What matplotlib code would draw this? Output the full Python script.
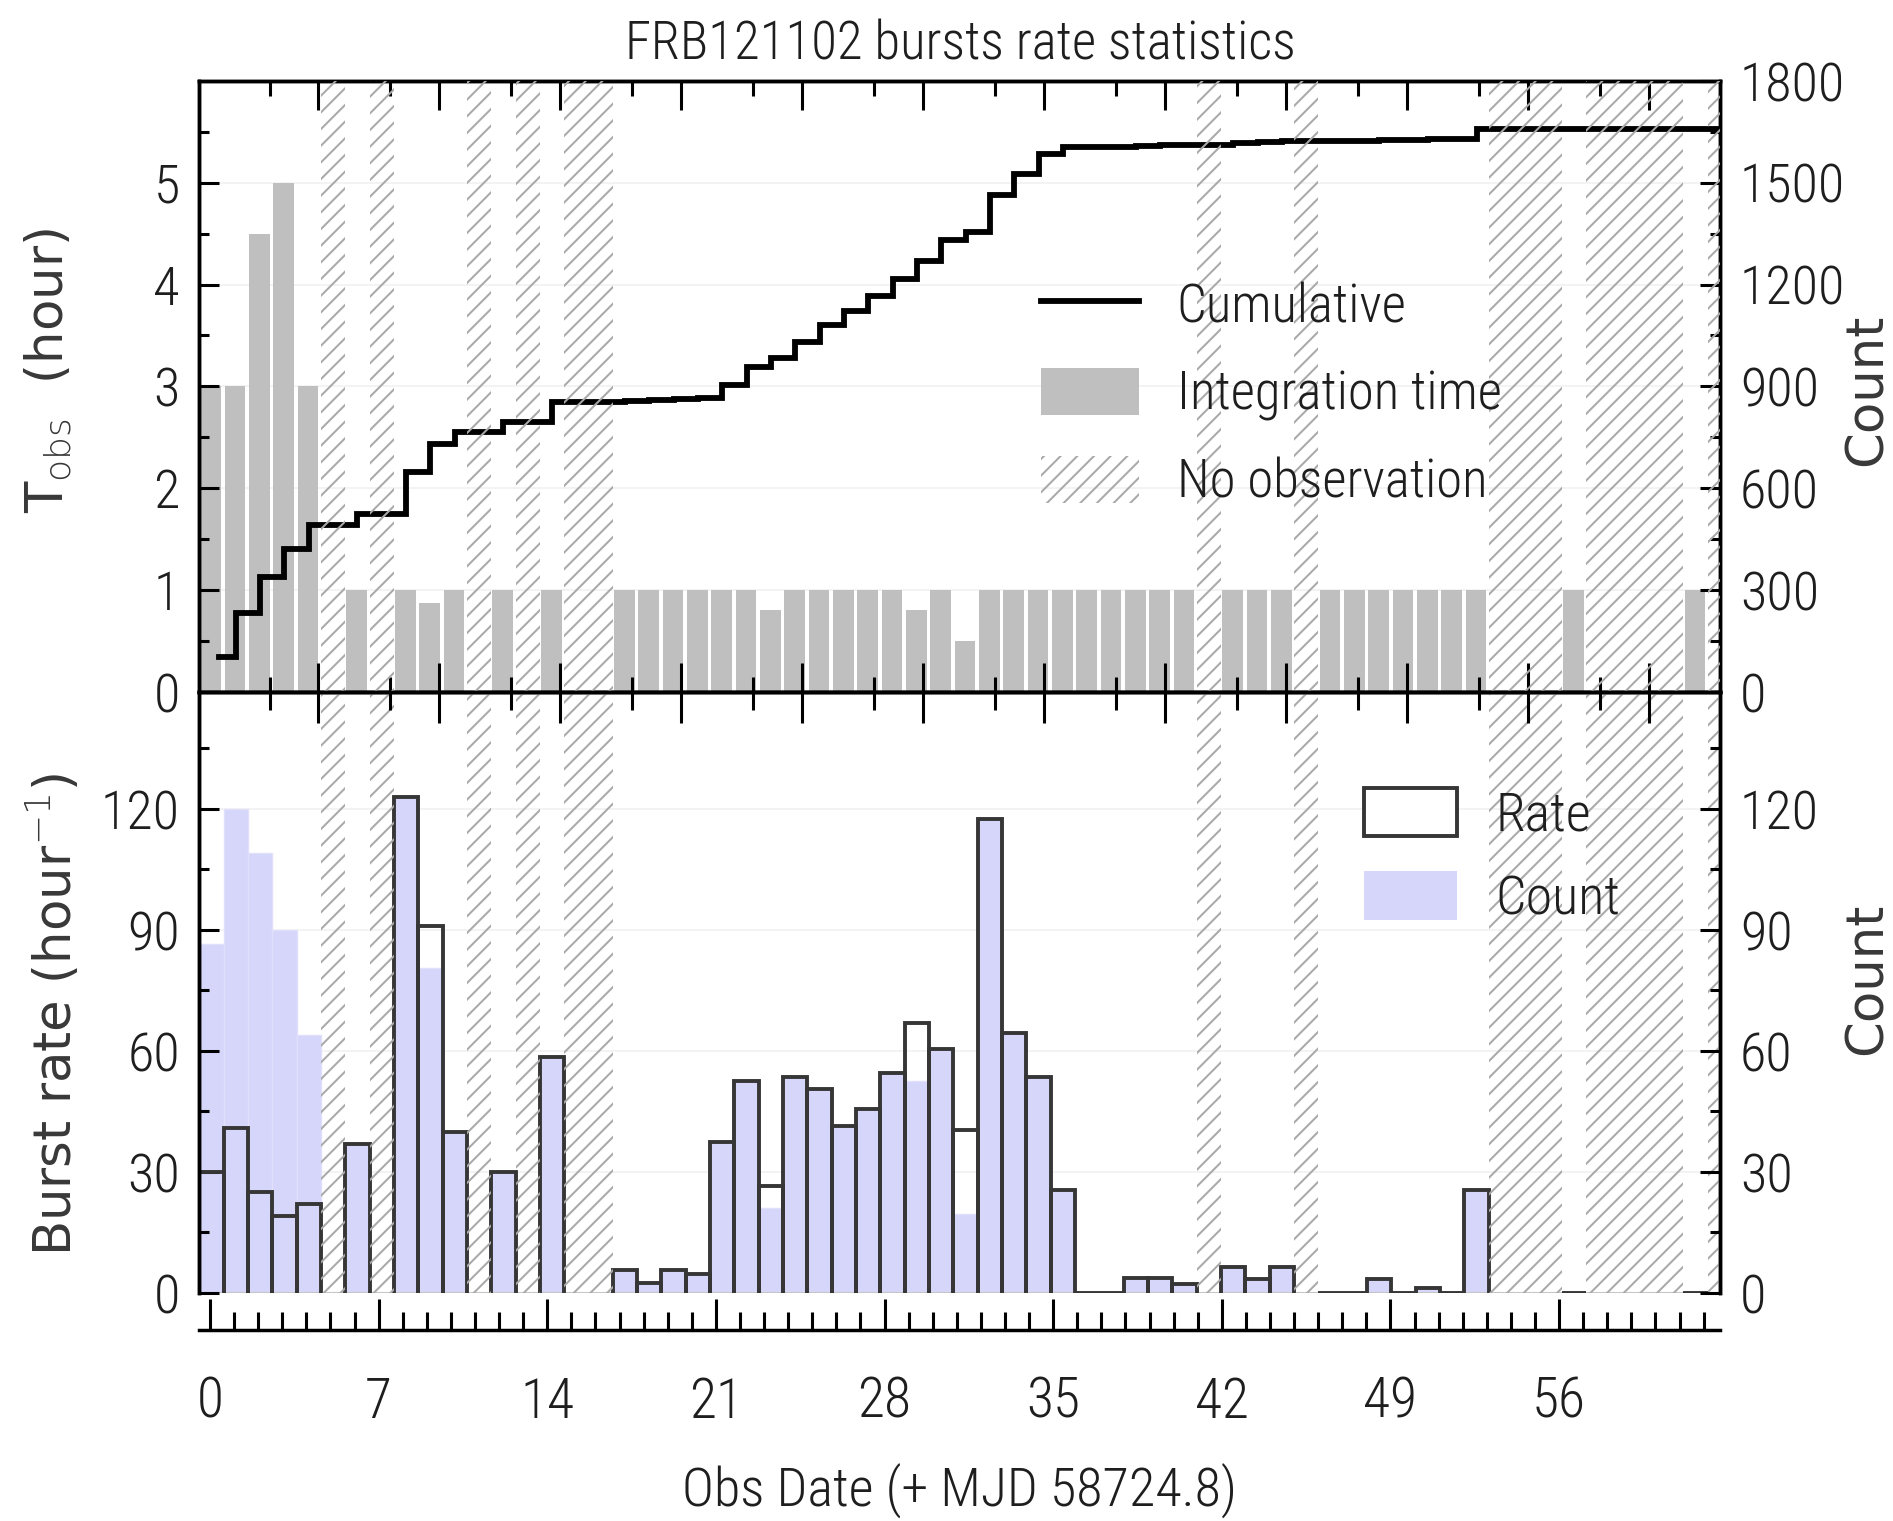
import numpy as np
import matplotlib
matplotlib.use("Agg")
import matplotlib.pyplot as plt
from matplotlib import font_manager as fm
from matplotlib.collections import LineCollection
from matplotlib.lines import Line2D
from matplotlib.patches import Patch
from matplotlib.ticker import FixedLocator, MultipleLocator

# ---- data: one entry per daily bin, None = no observation that day
t_obs_hr = [3.0, 3.0, 4.5, 5.0, 3.0, None, 1.0, None, 1.0, 0.87, 1.0, None, 1.0, None, 1.0, None, None,
            1.0, 1.0, 1.0, 1.0, 1.0, 1.0, 0.8, 1.0, 1.0, 1.0, 1.0, 1.0, 0.8, 1.0, 0.5,
            1.0, 1.0, 1.0, 1.0, 1.0, 1.0, 1.0, 1.0, 1.0, None, 1.0, 1.0, 1.0, None,
            1.0, 1.0, 1.0, 1.0, 1.0, 1.0, 1.0, None, None, None, 1.0, None, None, None, None, 1.0, None]

burst_rate = [30, 41, 25, 19, 22, None, 37, None, 123, 91, 40, None, 30, None, 58.5, None, None,
              5.7, 2.5, 5.7, 4.7, 37.5, 52.5, 26.5, 53.5, 50.5, 41.5, 45.5, 54.5, 67, 60.5, 40.5,
              117.5, 64.5, 53.5, 25.5, 0, 0, 3.7, 3.7, 2.3, None, 6.5, 3.5, 6.5, None,
              0, 0, 3.5, 0, 1.3, 0, 25.5, None, None, None, 0, None, None, None, None, 0, None]

burst_count = [86.5, 120, 109, 90, 64, None, 37, None, 123, 80.5, 40, None, 30, None, 58.5, None, None,
               5.7, 2.5, 5.7, 4.7, 37.5, 52.5, 21, 53.5, 50.5, 41.5, 45.5, 54.5, 52.5, 60.5, 19.5,
               117.5, 64.5, 53.5, 25.5, 0, 0, 3.7, 3.7, 2.3, None, 6.5, 3.5, 6.5, None,
               0, 0, 3.5, 0, 1.3, 0, 25.5, None, None, None, 0, None, None, None, None, 0, None]

cumulative = [104, 233, 337, 422, 490, 490, 523, 523, 649, 731, 765, 765, 796, 796, 853, 853, 853,
              858, 860, 864, 867, 904, 958, 983, 1032, 1081, 1123, 1166, 1215, 1270, 1331, 1355,
              1465, 1526, 1584, 1604, 1604, 1604, 1607, 1610, 1612, 1612, 1617, 1619, 1623, 1623,
              1623, 1623, 1627, 1627, 1629, 1629, 1658, 1658, 1658, 1658, 1658, 1658, 1658, 1658,
              1658, 1658, 1658]

day_ticks = [0, 7, 14, 21, 28, 35, 42, 49, 56]


# ---- fonts: a narrow sans for the horizontal text
def pick_narrow():
    entries = [(f.name, str(f.stretch)) for f in fm.fontManager.ttflist]
    names = {n for n, s in entries}
    for name in ["Liberation Sans Narrow", "Roboto Condensed", "Open Sans Condensed", "Noto Sans Condensed"]:
        if name in names:
            return name, "normal"
    for name in ["Noto Sans", "DejaVu Sans", "Open Sans", "Roboto"]:
        if any(n == name and "condensed" in s for n, s in entries):
            return name, "condensed"
    return "Liberation Sans", "normal"


narrow, stretch = pick_narrow()
plt.rcParams["font.family"] = [narrow, "DejaVu Sans"]
plt.rcParams["font.stretch"] = stretch
plt.rcParams["font.weight"] = "light"
plt.rcParams["axes.linewidth"] = 2.5
plt.rcParams["hatch.linewidth"] = 1.45
plt.rcParams["mathtext.fontset"] = "dejavusans"

W, H = 1893, 1521
fig = plt.figure(figsize=(W / 100, H / 100), dpi=100)
left, right = 199.2, 1720.5
top, mid, base, date_axis = 80.9, 691.8, 1293, 1330
ax1 = fig.add_axes([left / W, 1 - mid / H, (right - left) / W, (mid - top) / H])
ax2 = fig.add_axes([left / W, 1 - base / H, (right - left) / W, (base - mid) / H])
ax1r = ax1.twinx()
ax2r = ax2.twinx()

# bin geometry (bins are slightly wider than one tick unit in the original)
n = len(t_obs_hr)
x0, binw = -0.45, 1.01
edges = x0 + binw * np.arange(n + 1)
lefts = edges[:-1]
centers = lefts + binw / 2
t = np.array(t_obs_hr, dtype=float)
rate = np.array(burst_rate, dtype=float)
cnt = np.array(burst_count, dtype=float)
cum = np.array(cumulative, dtype=float)
obs = ~np.isnan(t)

hatch_col = "#a9a9a9"
gray = "#bfbfbf"
blue = "#d6d6fa"
edge_dark = "#363636"
txt = "#1e1e1e"

# faint horizontal guides behind everything
for y in [1, 2, 3, 4, 5]:
    ax1.axhline(y, color="#f1f1f1", lw=1.2, zorder=0.3)
for y in [30, 60, 90, 120]:
    ax2.axhline(y, color="#f1f1f1", lw=1.2, zorder=0.3)

# ---- upper panel
ax1.bar(lefts[obs] + 0.05 * binw, t[obs], width=0.85 * binw, align="edge", color=gray, zorder=1)
xs = np.append(centers, edges[-1] + binw)
ys = np.append(cum, cum[-1])
xs[0] = lefts[0] + 0.8 * binw
ax1r.step(xs, ys, where="post", color="k", lw=4.2, zorder=2, solid_joinstyle="miter")

for i in np.flatnonzero(~obs):
    for ax in (ax1r, ax2):
        ax.axvspan(edges[i], edges[i + 1], facecolor="none", edgecolor=hatch_col,
                   hatch="//", lw=0, zorder=3)

# ---- lower panel
ax2.bar(lefts[obs], cnt[obs], width=binw, align="edge", color=blue, edgecolor="#e0e0fc", lw=1, zorder=1)
ax2.axhline(0, color="#c6c6c6", lw=1.5, zorder=1.2)
segs = [[(l, 0), (l, h), (l + binw, h), (l + binw, 0)] for l, h in zip(lefts[obs], rate[obs])]
ax2.add_collection(LineCollection(segs, colors=edge_dark, linewidths=2.8, zorder=2,
                                  capstyle="butt", joinstyle="miter"))

# ---- limits and ticks
xlim = (-0.45, 62.7)
top_major = [float(v) for v in 4.5 + 5.02 * np.arange(12)]
top_minor = [float(v) for v in 2.47 + 5.02 * np.arange(12)]
for ax in (ax1, ax2):
    ax.set_xlim(*xlim)
ax1.set_ylim(0, 6)
ax1r.set_ylim(0, 1800)
ax2.set_ylim(0, 149)
ax2r.set_ylim(0, 149)

tick_kw = dict(direction="in", width=2.2, color="k", labelcolor=txt)

# frame ticks along the top and the shared middle edge
for ax in (ax1, ax2):
    ax.xaxis.set_major_locator(FixedLocator(top_major))
    ax.xaxis.set_minor_locator(FixedLocator(top_minor))
    ax.xaxis.set_zorder(4)
ax1.tick_params(axis="x", which="both", top=True, bottom=True, labelbottom=False, labeltop=False, **tick_kw)
ax2.tick_params(axis="x", which="both", top=True, bottom=False, labelbottom=False, labeltop=False, **tick_kw)
ax1.tick_params(axis="x", which="major", length=21)
ax1.tick_params(axis="x", which="minor", length=11)
ax2.tick_params(axis="x", which="major", length=22)
ax2.tick_params(axis="x", which="minor", length=13)
ax2.spines["bottom"].set_visible(False)
ax2r.spines["bottom"].set_visible(False)

ax1.yaxis.set_major_locator(FixedLocator([0, 1, 2, 3, 4, 5]))
ax1.yaxis.set_minor_locator(FixedLocator([0.5, 1.5, 2.5, 3.5, 4.5, 5.5]))
ax1r.yaxis.set_major_locator(FixedLocator([0, 300, 600, 900, 1200, 1500, 1800]))
ax1r.yaxis.set_minor_locator(FixedLocator([150, 450, 750, 1050, 1350, 1650]))
ax2.yaxis.set_major_locator(FixedLocator([0, 30, 60, 90, 120]))
ax2.yaxis.set_minor_locator(FixedLocator([15, 45, 75, 105, 135]))
ax2r.yaxis.set_major_locator(FixedLocator([0, 30, 60, 90, 120]))
ax2r.yaxis.set_minor_locator(FixedLocator([15, 45, 75, 105, 135]))
for ax in (ax1, ax1r, ax2, ax2r):
    ax.tick_params(axis="y", which="both", labelsize=39, pad=14, **tick_kw)
    ax.tick_params(axis="y", which="major", length=14.4)
    ax.tick_params(axis="y", which="minor", length=7.2)
    for sp in ax.spines.values():
        sp.set_linewidth(2.5)

# detached date axis below the lower panel
axd = fig.add_axes([left / W, 1 - date_axis / H, (right - left) / W, 0.0001])
axd.patch.set_visible(False)
for s in ("top", "left", "right"):
    axd.spines[s].set_visible(False)
axd.spines["bottom"].set_linewidth(2.5)
axd.set_xlim(*xlim)
axd.set_yticks([])
axd.xaxis.set_major_locator(FixedLocator(day_ticks))
axd.xaxis.set_minor_locator(MultipleLocator(1))
axd.tick_params(axis="x", which="both", labelsize=40, pad=33, **tick_kw)
axd.tick_params(axis="x", which="major", length=22)
axd.tick_params(axis="x", which="minor", length=13)

# ---- legends
h_up = [Line2D([], [], color="k", lw=4.2),
        Patch(facecolor=gray, lw=0),
        Patch(facecolor="none", edgecolor=hatch_col, hatch="//", lw=0)]
ax1r.legend(h_up, ["Cumulative", "Integration time", "No observation"], loc="upper left",
            bbox_to_anchor=(0.5534, 0.6734), frameon=False, fontsize=38, borderpad=0,
            borderaxespad=0, handlelength=1.85, handleheight=1.0, labelspacing=0.66,
            handletextpad=0.72, labelcolor=txt)

h_lo = [Patch(facecolor="white", edgecolor=edge_dark, lw=2.8),
        Patch(facecolor=blue, lw=0)]
ax2r.legend(h_lo, ["Rate", "Count"], loc="upper left", bbox_to_anchor=(0.7657, 0.8405),
            frameon=False, fontsize=39, borderpad=0, borderaxespad=0, handlelength=1.72,
            handleheight=1.0, labelspacing=0.55, handletextpad=0.7, labelcolor=txt)

# ---- titles and axis labels
fig.text(960 / W, 1 - 60 / H, "FRB121102 bursts rate statistics", ha="center", va="baseline",
         fontsize=38, color=txt)
fig.text(960 / W, 1 - 1507 / H, "Obs Date (+ MJD 58724.8)", ha="center", va="baseline",
         fontsize=39, color=txt)
ylab = dict(rotation=90, ha="center", va="center", fontsize=37, color="#383838",
            family="DejaVu Sans", stretch="normal", weight="normal")
fig.text(48 / W, 1 - 371 / H, r"T$_{\rm obs}$  (hour)", **ylab)
fig.text(54 / W, 1 - 1014 / H, r"Burst rate (hour$^{-1}$)", **ylab)
fig.text(1868 / W, 1 - 390 / H, "Count", **ylab)
fig.text(1868 / W, 1 - 979 / H, "Count", **ylab)

fig.savefig("out.png", dpi=100)
